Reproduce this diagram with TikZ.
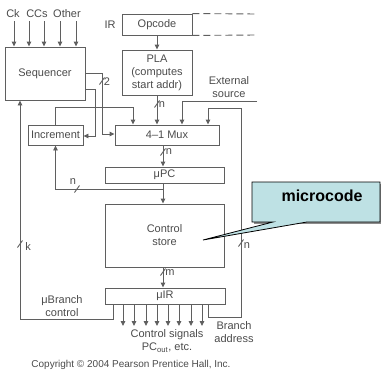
\documentclass[tikz,border=0pt]{standalone}
\usepackage{fontspec}
\setmainfont{Liberation Sans}
\usetikzlibrary{arrows.meta}
\definecolor{ln}{RGB}{95,95,95}
\definecolor{tx}{RGB}{75,75,75}
\definecolor{cf}{RGB}{190,225,228}
\tikzset{
  box/.style={draw=ln, line width=0.9pt, rectangle, inner sep=0pt, text=tx, font=\fontsize{11}{13}\selectfont},
  lbl/.style={inner sep=0pt, text=tx, font=\fontsize{11}{13}\selectfont},
  small/.style={inner sep=0pt, text=tx, font=\fontsize{10}{12}\selectfont},
  wire/.style={draw=ln, line width=0.9pt},
  arr/.style={draw=ln, line width=0.9pt, -{Triangle[length=5pt,width=4.5pt]}},
  bus/.pic={\draw[wire] (-2.5,3.5) -- (2.5,-3.5);}
}
\begin{document}
\begin{tikzpicture}[x=1pt,y=-1pt]
\useasboundingbox (0,0) rectangle (381,372);

% boxes
\node[box, minimum width=80pt, minimum height=53pt] (seq) at (45,73.5) {Sequencer};
\node[box, minimum width=70pt, minimum height=21pt] (opc) at (157,24.5) {Opcode};
\node[box, minimum width=70pt, minimum height=45pt, align=center] (pla) at (157,72.5) {PLA\\(computes\\start addr)};
\node[box, minimum width=104pt, minimum height=20pt] (mux) at (167,135) {4--1 Mux};
\node[box, minimum width=55pt, minimum height=20pt] (inc) at (55.5,135) {Increment};
\node[box, minimum width=119pt, minimum height=16pt] (upc) at (164.5,175) {μPC};
\node[box, minimum width=119pt, minimum height=63pt, align=center] (cs) at (164.5,235.5) {Control\\store};
\node[box, minimum width=120pt, minimum height=16pt] (uir) at (165,296) {μIR};

% labels
\node[lbl] (lck) at (13,14) {Ck};
\node[lbl] (lccs) at (37,14) {CCs};
\node[lbl] (loth) at (67,14) {Other};
\node[lbl] (lir) at (110,25) {IR};
\node[lbl, align=center] (lext) at (229,87) {External\\source};
\node[lbl, align=center] (lbc) at (62,306.5) {μBranch\\control};
\node[lbl, align=center] (lcs) at (167,341) {Control signals\\PC\textsubscript{out}, etc.};
\node[lbl, align=center] (lba) at (234,332) {Branch\\address};
\node[small] (copy) at (131,365) {Copyright © 2004 Pearson Prentice Hall, Inc.};

% inputs to sequencer
\foreach \x in {14,29,44,60,76} \draw[arr] (\x,21) -- (seq.north -| \x,0);

% opcode dashed extension
\draw[wire, dash pattern=on 7pt off 4pt] (opc.north east) -- (257,14);
\draw[wire, dash pattern=on 7pt off 4pt] (opc.south east) -- (257,35);

% opcode -> PLA -> mux
\draw[arr] (opc.south) -- (pla.north);
\draw[arr] (pla.south) -- (mux.north -| pla.south);
\pic at (157,104) {bus};
\node[lbl] at (162,105) {n};

% sequencer outputs
\draw[arr] (seq.east |- 0,73) -- (102,73) -- (102,134) -- (mux.west |- 0,134);
\pic at (102,81) {bus};
\node[lbl] at (107,82) {2};
\draw[arr] (seq.east |- 0,89) -- (95,89) -- (95,136) -- (inc.east |- 0,136);

% increment -> mux
\draw[arr] (inc.north) |- (133,107) -- (mux.north -| 133,0);

% external source
\coordinate (ext) at (257,101);
\draw[arr] (ext) -| (mux.north -| 182,0);

% branch address loop
\draw[arr] (uir.south -| 208,0) |- (241,317) |- (208,108) -- (mux.north -| 208,0);
\pic at (241,243) {bus};
\node[lbl] at (247,246) {n};

% mux -> upc -> cs
\draw[arr] (mux.south -| 163,0) -- (upc.north -| 163,0);
\pic at (163,152) {bus};
\node[lbl] at (169,152) {n};
\draw[arr] (upc.south -| 163,0) -- (cs.north -| 163,0);
\coordinate (j) at (163,189);
\draw[arr] (j) -| (inc.south);
\pic at (77,189) {bus};
\node[lbl] at (73,182) {n};

% cs -> uir
\draw[arr] (cs.south -| 163,0) -- (uir.north -| 163,0);
\pic at (163,272) {bus};
\node[lbl] at (170,273) {m};

% control signals
\foreach \x in {123,134,146,157,168,179,191,202} \draw[arr] (uir.south -| \x,0) -- (\x,326);

% micro branch control
\draw[arr] (uir.south -| 113,0) |- (20,319) -- (seq.south -| 20,0);
\pic at (20,244) {bus};
\node[lbl] at (28,247) {k};

% callout
\fill[black!45] (254,184) rectangle (383,224);
\filldraw[fill=cf, draw=black, line width=0.8pt] (252,182) -- (380,182) -- (380,222) -- (307,222) -- (203,240) -- (273,222) -- (252,222) -- cycle;
\node[inner sep=0pt, font=\bfseries\fontsize{16}{18}\selectfont] (mc) at (322,196) {microcode};
\end{tikzpicture}
\end{document}
